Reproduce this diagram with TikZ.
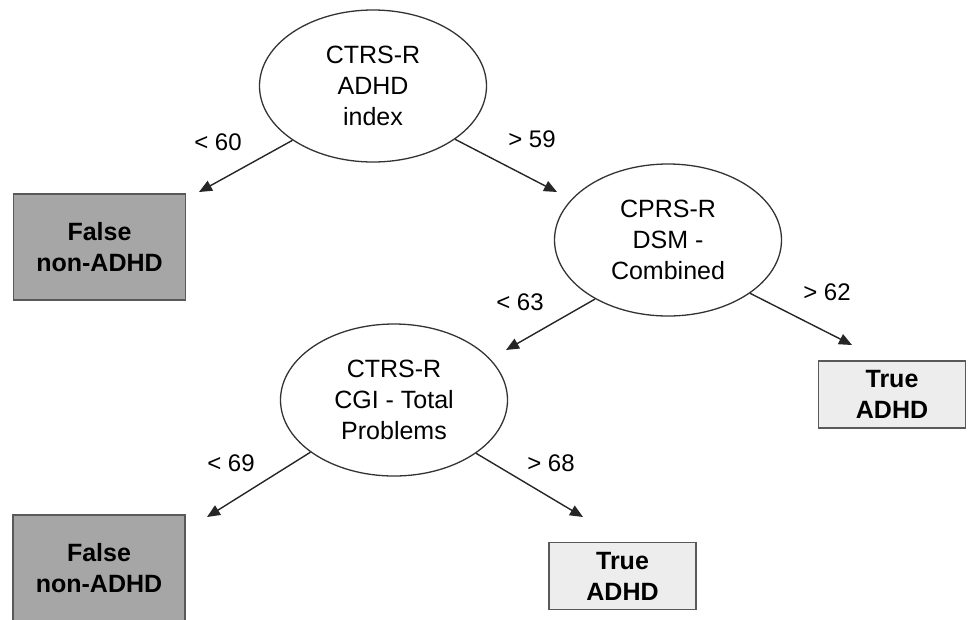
\documentclass[tikz,border=0pt]{standalone}
\usepackage{fontspec}
\setmainfont{Liberation Sans}
\usetikzlibrary{shapes.geometric,arrows.meta}
\begin{document}
\begin{tikzpicture}[x=1pt,y=-1pt,
  splitnode/.style={ellipse,draw=black!80,line width=1.3pt,minimum width=227pt,minimum height=152pt,inner sep=0pt,align=center,font=\fontsize{25}{31}\selectfont},
  falsebox/.style={rectangle,draw=black!65,line width=1.4pt,fill=black!35,minimum width=172pt,minimum height=106pt,inner sep=0pt,align=center,font=\fontsize{25}{31}\selectfont\bfseries},
  truebox/.style={rectangle,draw=black!65,line width=1.4pt,fill=black!7,minimum width=147pt,minimum height=67pt,inner sep=0pt,align=center,font=\fontsize{25}{31}\selectfont\bfseries},
  cond/.style={font=\fontsize{24}{28}\selectfont,inner sep=0pt},
  branch/.style={draw=black!85,line width=1.4pt,-{Triangle[length=13pt,width=11pt]}}]
\useasboundingbox (0,0) rectangle (968,619);
\node[splitnode] (A) at (373,86) {CTRS-R\\ADHD\\index};
\node[splitnode] (B) at (668,240) {CPRS-R\\DSM -\\Combined};
\node[splitnode] (C) at (394,400) {CTRS-R\\CGI - Total\\Problems};
\node[falsebox] (F1) at (99.5,247) {False\\non-ADHD};
\node[falsebox] (F2) at (99,568) {False\\non-ADHD};
\node[truebox] (T1) at (892,394.5) {True\\ADHD};
\node[truebox] (T2) at (622.5,576) {True\\ADHD};
\coordinate (e1) at (199,192);
\coordinate (e2) at (557,192);
\coordinate (e3) at (506,350);
\coordinate (e4) at (852,345);
\coordinate (e5) at (207,517);
\coordinate (e6) at (583,517);
\draw[branch] (A.214.5) -- (e1);
\draw[branch] (A.-33.4) -- (e2);
\draw[branch] (B.219.4) -- (e3);
\draw[branch] (B.-33.4) -- (e4);
\draw[branch] (C.212.9) -- (e5);
\draw[branch] (C.-33.2) -- (e6);
\node[cond] (l1) at (218,142) {< 60};
\node[cond] (l2) at (532,139) {> 59};
\node[cond] (l3) at (520,302) {< 63};
\node[cond] (l4) at (827,292) {> 62};
\node[cond] (l5) at (231,463) {< 69};
\node[cond] (l6) at (551,463) {> 68};
\end{tikzpicture}
\end{document}
